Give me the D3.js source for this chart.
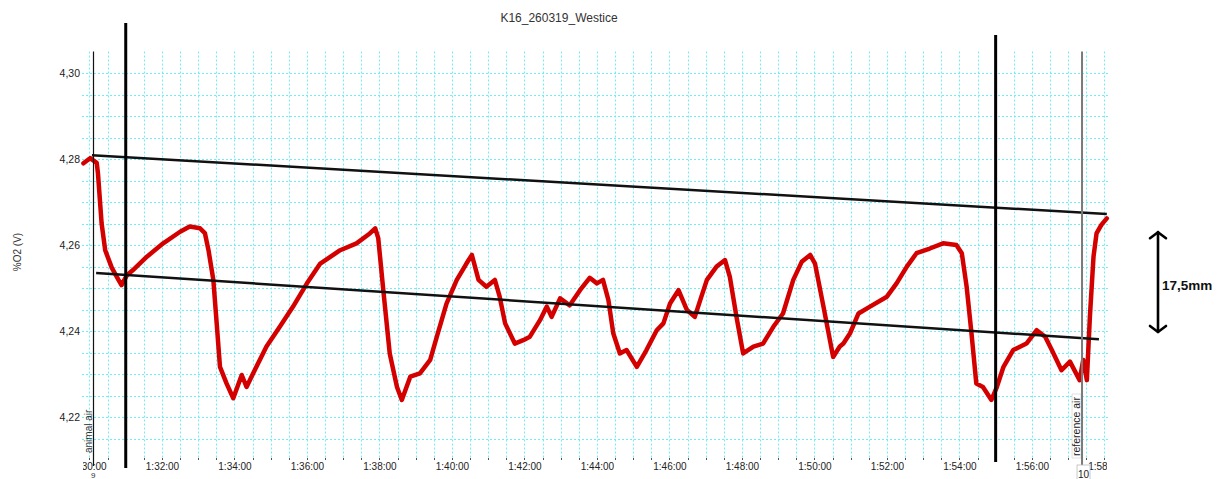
<!DOCTYPE html>
<html><head><meta charset="utf-8">
<script src="https://cdn.jsdelivr.net/npm/d3@7"></script>
<style>
body{margin:0;background:#fff;}
svg{display:block;font-family:"Liberation Sans",Arial,sans-serif;}
</style>
</head><body>
<svg id="c" width="1217" height="479"></svg>
<script>
// ---------- data ----------
const chartTitle = "K16_260319_Westice";
const yAxisTitle = "%O2 (V)";
const yTickValues = [4.22, 4.24, 4.26, 4.28, 4.30];
const xTickSec = [0,120,240,360,480,600,720,840,960,1080,1200,1320,1440,1560,1680];
const xTickLabels = ["1:30:00","1:32:00","1:34:00","1:36:00","1:38:00","1:40:00","1:42:00","1:44:00","1:46:00","1:48:00","1:50:00","1:52:00","1:54:00","1:56:00","1:58:00"];
// seconds after 1:30:00
const timeSec = [-10,1,12,14,20,26,37,48,53,62,
 72,95,122,150,166,183,191,197,205,211,
 216,227,238,252,260,271,293,315,337,360,
 382,415,442,464,473,478,486,497,509,517,
 531,547,564,575,591,608,624,633,644,657,
 671,679,688,704,718,729,746,757,765,779,
 795,812,828,840,850,859,867,878,889,906,
 922,939,950,961,975,989,1002,1011,1022,1038,
 1052,1060,1071,1082,1099,1115,1132,1148,1165,1179,
 1193,1201,1215,1231,1242,1248,1259,1273,1292,1320,
 1336,1353,1369,1391,1413,1435,1444,1452,1460,1468,
 1479,1493,1502,1513,1529,1551,1568,1582,1593,1609,
 1623,1639,1645,1651,1656,1662,1667,1675,1684];
const o2Volts = [4.2790,4.2802,4.2791,4.2767,4.2651,4.2588,4.2547,4.2519,4.2507,4.2530,
 4.2542,4.2573,4.2604,4.2631,4.2643,4.2639,4.2628,4.2588,4.2519,4.2410,
 4.2317,4.2278,4.2244,4.2298,4.2270,4.2302,4.2364,4.2410,4.2457,4.2511,
 4.2557,4.2588,4.2604,4.2627,4.2639,4.2616,4.2500,4.2348,4.2270,4.2240,
 4.2294,4.2302,4.2333,4.2387,4.2464,4.2519,4.2557,4.2577,4.2519,4.2503,
 4.2519,4.2480,4.2418,4.2371,4.2379,4.2387,4.2426,4.2457,4.2433,4.2476,
 4.2460,4.2495,4.2524,4.2511,4.2519,4.2472,4.2395,4.2348,4.2356,4.2317,
 4.2356,4.2402,4.2418,4.2464,4.2495,4.2449,4.2433,4.2472,4.2519,4.2550,
 4.2565,4.2526,4.2433,4.2348,4.2364,4.2371,4.2410,4.2441,4.2519,4.2561,
 4.2577,4.2557,4.2457,4.2340,4.2364,4.2371,4.2395,4.2441,4.2457,4.2480,
 4.2511,4.2550,4.2581,4.2592,4.2604,4.2600,4.2581,4.2503,4.2395,4.2278,
 4.2270,4.2240,4.2270,4.2317,4.2356,4.2371,4.2402,4.2387,4.2356,4.2309,
 4.2329,4.2286,4.2333,4.2286,4.2433,4.2573,4.2627,4.2647,4.2662];
// event markers
const eventNames = ["animal air", "reference air"];
const eventIds = ["9", "10"];
const eventSec = [6, 1643];
// hand-drawn analysis lines
const cutSec = [60, 1500];
const upperFitSec = [4, 1684];
const upperFitV = [4.2809, 4.2672];
const lowerFitSec = [11, 1671];
const lowerFitV = [4.2535, 4.2381];
const spanV = [4.2630, 4.2398];
const spanLabel = "17,5mm";

// ---------- drawing ----------
const svg = d3.select("#c");
const L = 82, R = 1110, T = 51.5, B = 458;
const x = d3.scaleLinear().domain([-12.4, 1689.3]).range([L, R]);
const y = d3.scaleLinear().domain([4.2105, 4.305]).range([B, T]);

svg.append("text").attr("x", 559).attr("y", 21.5).attr("text-anchor", "middle")
  .attr("font-size", 12).attr("fill", "#333").text(chartTitle);

svg.append("text").attr("transform", "translate(20.5,252) rotate(-90)")
  .attr("text-anchor", "middle").attr("font-size", 10).attr("fill", "#333").text(yAxisTitle);

// grid
const gridCol = "#70eef8";
const hVals = d3.range(0, 18).map(i => +(4.215 + i * 0.005).toFixed(3));
svg.append("g").selectAll("line").data(hVals).join("line")
  .attr("x1", L).attr("x2", R)
  .attr("y1", d => Math.round(y(d)) + 0.5).attr("y2", d => Math.round(y(d)) + 0.5)
  .attr("stroke", gridCol).attr("stroke-width", 1).attr("stroke-dasharray", "2,2");
const vVals = d3.range(0, 57).map(i => i * 30);
svg.append("g").selectAll("line").data(vVals).join("line")
  .attr("x1", d => Math.round(x(d)) + 0.5).attr("x2", d => Math.round(x(d)) + 0.5)
  .attr("y1", T).attr("y2", B)
  .attr("stroke", gridCol).attr("stroke-width", 1).attr("stroke-dasharray", "2,2");
// small tick marks under the plot
svg.append("g").selectAll("line").data(vVals).join("line")
  .attr("x1", d => Math.round(x(d)) + 0.5).attr("x2", d => Math.round(x(d)) + 0.5)
  .attr("y1", B).attr("y2", B + 2)
  .attr("stroke", "#555").attr("stroke-width", 1);

// y axis
const yAx = svg.append("g").attr("transform", `translate(${L},0)`)
  .call(d3.axisLeft(y).tickValues(yTickValues).tickSize(0).tickPadding(2)
    .tickFormat(d => d.toFixed(2).replace(".", ",")));
yAx.select(".domain").remove();
yAx.selectAll("text").attr("font-size", 10.5).attr("fill", "#222")
  .style("font-family", '"Liberation Sans",Arial,sans-serif');

// x axis (labels clipped to plot width)
svg.append("clipPath").attr("id", "xclip").append("rect")
  .attr("x", 83).attr("y", 0).attr("width", 1107 - 83).attr("height", 30);
const xAx = svg.append("g").attr("transform", `translate(0,${B})`).attr("clip-path", "url(#xclip)")
  .call(d3.axisBottom(x).tickValues(xTickSec).tickSize(0).tickPadding(5)
    .tickFormat((d, i) => xTickLabels[i]));
xAx.select(".domain").remove();
xAx.selectAll("text").attr("font-size", 10).attr("fill", "#222")
  .style("font-family", '"Liberation Sans",Arial,sans-serif');

// red trace
const line = d3.line().x(i => x(timeSec[i])).y(i => y(o2Volts[i]));
const idx = d3.range(timeSec.length);
svg.append("path").attr("d", line(idx))
  .attr("fill", "none").attr("stroke", "#d40000").attr("stroke-width", 4.5)
  .attr("stroke-linejoin", "round").attr("stroke-linecap", "round");

// fit lines
function fitLine(ts, vs) {
  svg.append("line").attr("x1", x(ts[0])).attr("y1", y(vs[0]))
    .attr("x2", x(ts[1])).attr("y2", y(vs[1]))
    .attr("stroke", "#111").attr("stroke-width", 2.5);
}
fitLine(upperFitSec, upperFitV);
fitLine(lowerFitSec, lowerFitV);

// event markers
// animal air
svg.append("line").attr("x1", Math.round(x(eventSec[0])) + 0.5).attr("x2", Math.round(x(eventSec[0])) + 0.5)
  .attr("y1", T).attr("y2", 466).attr("stroke", "#111").attr("stroke-width", 1.2);
svg.append("text").attr("transform", `translate(${x(eventSec[0]) - 1.5},453) rotate(-90)`)
  .attr("font-size", 10).attr("fill", "#333").text(eventNames[0]);
svg.append("text").attr("x", x(eventSec[0])).attr("y", 477.5).attr("text-anchor", "middle")
  .attr("font-size", 8).attr("fill", "#333").text(eventIds[0]);
// reference air
const rx = x(eventSec[1]);
svg.append("rect").attr("x", rx - 10).attr("y", 394).attr("width", 9).attr("height", 64)
  .attr("fill", "#fff").attr("stroke", "#ccc").attr("stroke-width", 0.6);
svg.append("line").attr("x1", rx).attr("x2", rx).attr("y1", T).attr("y2", 466)
  .attr("stroke", "#7a7a7a").attr("stroke-width", 2);
svg.append("text").attr("transform", `translate(${rx - 2},456) rotate(-90)`)
  .attr("font-size", 10.5).attr("fill", "#222").text(eventNames[1]);
svg.append("rect").attr("x", rx - 5).attr("y", 465).attr("width", 13).attr("height", 16)
  .attr("fill", "#fff").attr("stroke", "#bbb").attr("stroke-width", 0.8);
svg.append("text").attr("x", rx + 1.5).attr("y", 477.5).attr("text-anchor", "middle")
  .attr("font-size", 10).attr("fill", "#222").text(eventIds[1]);

// thick cut lines
svg.append("line").attr("x1", x(cutSec[0])).attr("x2", x(cutSec[0]))
  .attr("y1", 23).attr("y2", 468).attr("stroke", "#000").attr("stroke-width", 3);
svg.append("line").attr("x1", x(cutSec[1])).attr("x2", x(cutSec[1]))
  .attr("y1", 35).attr("y2", 462).attr("stroke", "#000").attr("stroke-width", 3);

// span arrow
const ax = 1158, ay1 = y(spanV[0]), ay2 = y(spanV[1]);
const ag = svg.append("g").attr("stroke", "#000").attr("stroke-width", 2.6)
  .attr("fill", "none").attr("stroke-linecap", "round").attr("stroke-linejoin", "round");
ag.append("line").attr("x1", ax).attr("x2", ax).attr("y1", ay1).attr("y2", ay2);
ag.append("polyline").attr("points", `${ax-8},${ay1+6} ${ax},${ay1} ${ax+8},${ay1+6}`);
ag.append("polyline").attr("points", `${ax-8},${ay2-6} ${ax},${ay2} ${ax+8},${ay2-6}`);
svg.append("text").attr("x", 1162).attr("y", 290).attr("font-size", 13.5)
  .attr("font-weight", "bold").attr("fill", "#111").text(spanLabel);
</script>
</body></html>
